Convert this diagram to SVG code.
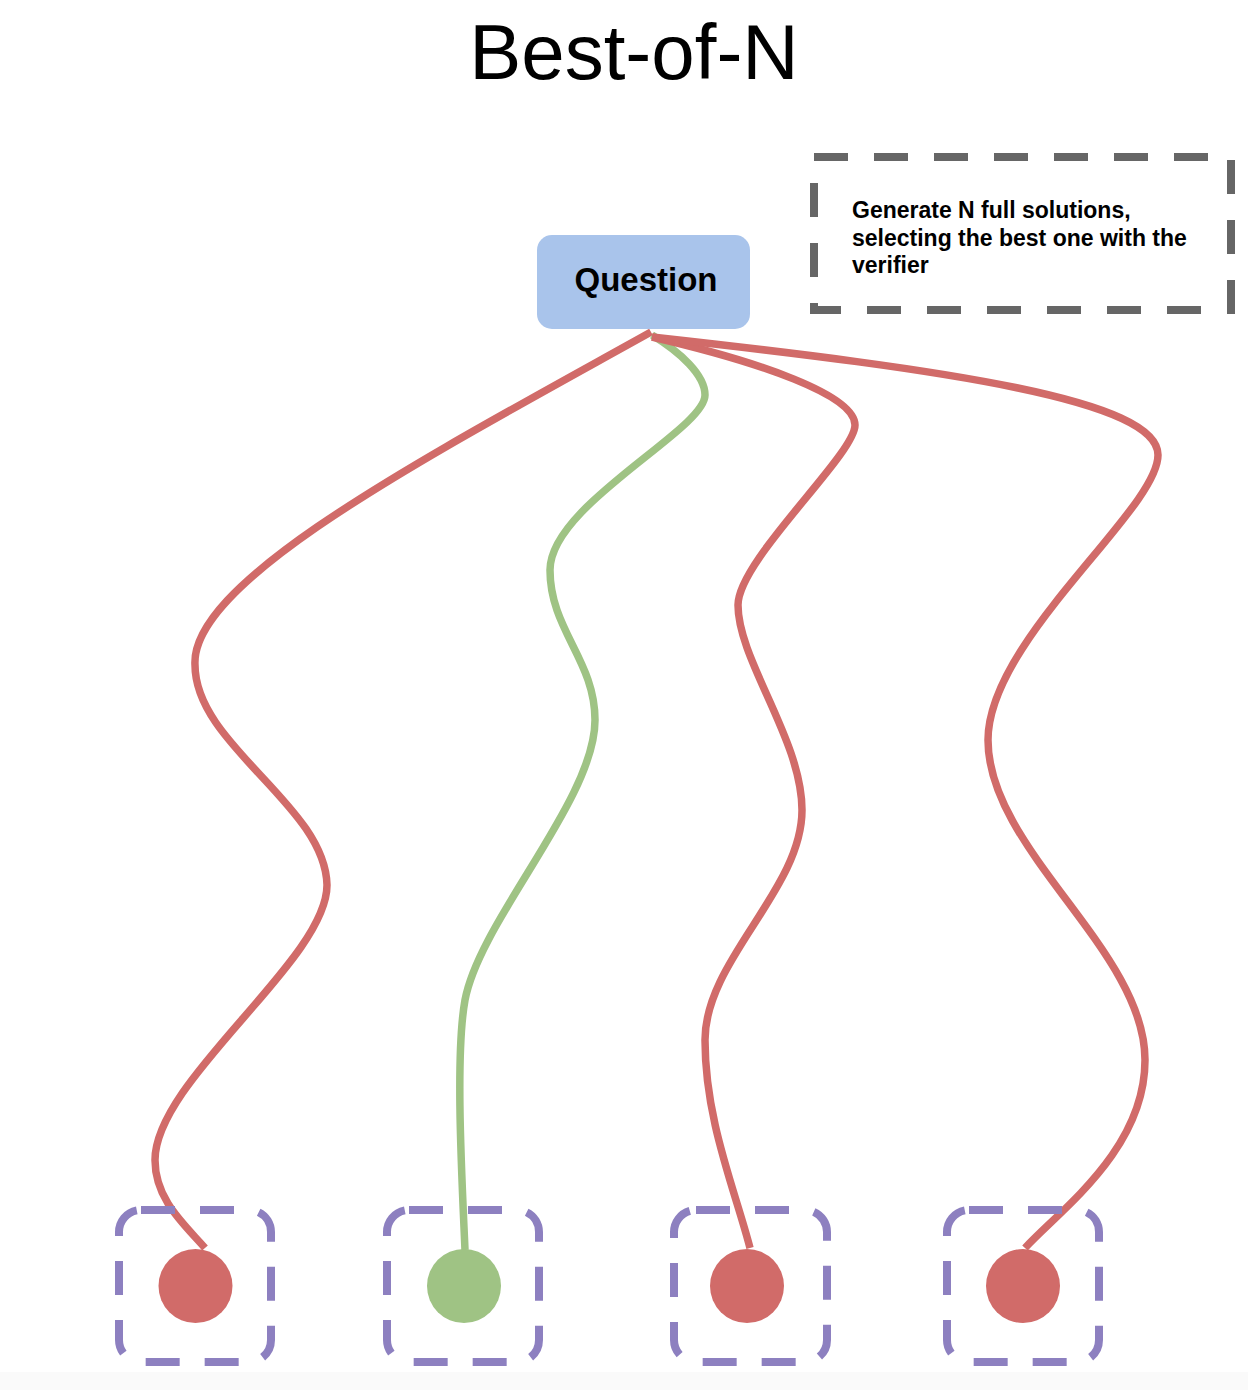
<svg xmlns="http://www.w3.org/2000/svg" width="1248" height="1390" viewBox="0 0 1248 1390">
  <style>
    .title { font-family: "Liberation Sans", Arial, sans-serif; font-size: 78px; fill: #000; }
    .qtext { font-family: "Liberation Sans", Arial, sans-serif; font-size: 33px; font-weight: bold; fill: #000; }
    .note { font-family: "Liberation Sans", Arial, sans-serif; font-size: 23px; font-weight: bold; fill: #000; }
    .slot { fill: none; stroke: #8D80C0; stroke-width: 8; stroke-dasharray: 34 25; }
    .edge { fill: none; stroke-width: 7.5; stroke-linecap: butt; }
    .bad { stroke: #D16B69; }
    .good { stroke: #9FC384; }
  </style>
  <rect x="0" y="0" width="1248" height="1390" fill="#FFFFFF"/>
  <rect x="0" y="1372" width="1248" height="18" fill="#FAFAFA"/>

  <g id="title">
    <text class="title" x="634" y="79" text-anchor="middle">Best-of-N</text>
  </g>

  <g id="note">
    <rect x="814" y="157" width="417" height="153" fill="none" stroke="#666666" stroke-width="8" stroke-dasharray="34 26"/>
    <text class="note" x="852" y="218">Generate N full solutions,</text>
    <text class="note" x="852" y="245.5">selecting the best one with the</text>
    <text class="note" x="852" y="273">verifier</text>
  </g>

  <g id="connectors">
    <path class="edge bad" d="M651,332 C430,455 190,580 195,665 C195,745 325,805 327,885 C327,960 155,1080 155,1160 C155,1200 185,1225 205,1248"/>
    <path class="edge good" d="M652,335 C680,352 705,375 705,395 C705,430 550,505 550,570 C550,630 595,660 595,720 C595,800 480,920 465,1000 C455,1055 462,1180 465,1250"/>
    <path class="edge bad" d="M652,337 C760,362 855,395 855,425 C855,455 738,560 738,605 C738,660 802,740 802,810 C802,890 705,960 705,1040 C705,1120 735,1190 750,1248"/>
    <path class="edge bad" d="M652,337 C950,370 1158,400 1158,455 C1158,510 988,640 988,740 C988,850 1145,950 1145,1060 C1145,1150 1060,1210 1025,1248"/>
  </g>

  <g id="question">
    <rect x="537" y="235" width="213" height="94" rx="15" ry="15" fill="#A9C4EB"/>
    <text class="qtext" x="646" y="291" text-anchor="middle">Question</text>
  </g>

  <g id="solution1">
    <rect class="slot" x="119" y="1210" width="152" height="152" rx="22" ry="22"/>
    <circle cx="195.5" cy="1286" r="37" fill="#D16B69"/>
  </g>
  <g id="solution2">
    <rect class="slot" x="387" y="1210" width="152" height="152" rx="22" ry="22"/>
    <circle cx="464" cy="1286" r="37" fill="#9FC384"/>
  </g>
  <g id="solution3">
    <rect class="slot" x="674" y="1210" width="153" height="152" rx="22" ry="22"/>
    <circle cx="747" cy="1286" r="37" fill="#D16B69"/>
  </g>
  <g id="solution4">
    <rect class="slot" x="947" y="1210" width="152" height="152" rx="22" ry="22"/>
    <circle cx="1023" cy="1286" r="37" fill="#D16B69"/>
  </g>
</svg>
